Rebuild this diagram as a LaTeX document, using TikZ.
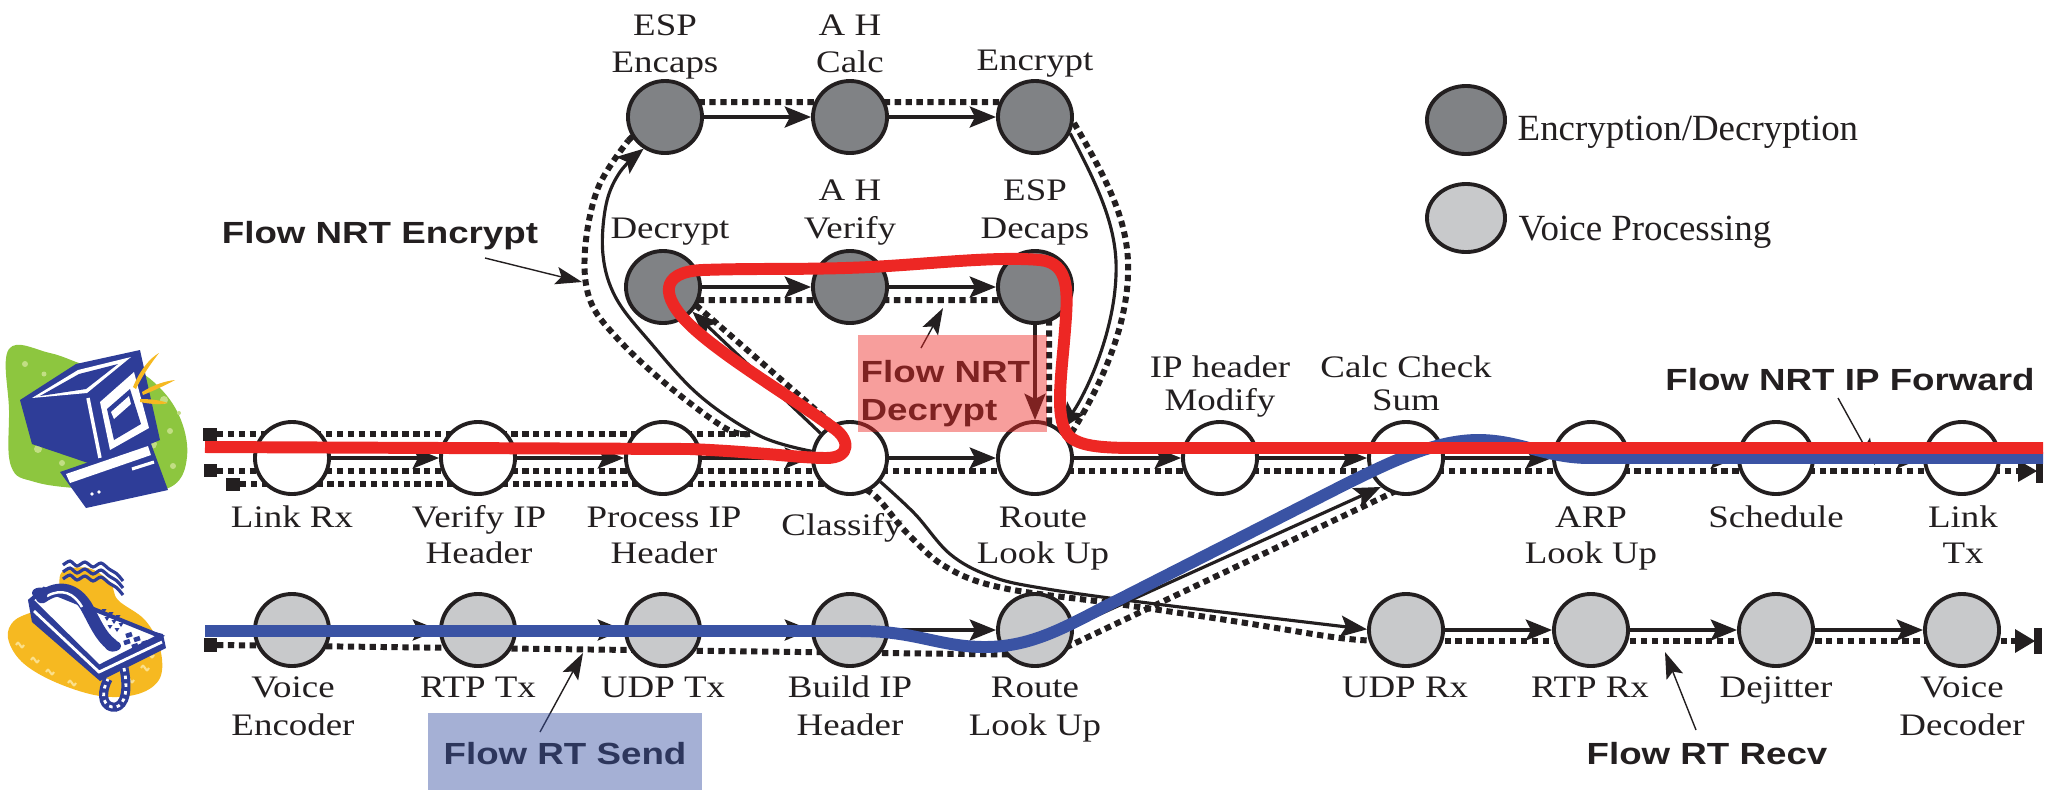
\documentclass[tikz,border=0pt]{standalone}
\usepackage{fontspec}
\usetikzlibrary{arrows.meta,shapes.geometric}
\newfontfamily\lblfont{Liberation Serif}[FakeStretch=1.18]
\newfontfamily\legfont{Liberation Serif}
\newfontfamily\flowfont{Liberation Sans}[FakeStretch=1.2]

\definecolor{ink}{HTML}{231F20}
\definecolor{encgray}{HTML}{808285}
\definecolor{voxgray}{HTML}{C8C9CB}
\definecolor{flowred}{HTML}{ED2724}
\definecolor{flowblue}{HTML}{3A53A4}
\definecolor{clipblue}{HTML}{2E3D98}
\definecolor{clipgreen}{HTML}{8DC63F}
\definecolor{clipgreenlt}{HTML}{C2DE84}
\definecolor{clipyellow}{HTML}{F6B921}
\definecolor{clipyellowlt}{HTML}{FBE08C}

\pgfdeclarelayer{back}
\pgfdeclarelayer{front}
\pgfsetlayers{back,main,front}

\tikzset{
  procnode/.style={ellipse, draw=ink, line width=1.1pt, minimum width=0.74cm,
                   minimum height=0.72cm, inner sep=0pt},
  plainnode/.style={procnode, fill=white},
  cryptnode/.style={procnode, fill=encgray},
  voicenode/.style={procnode, fill=voxgray},
  arr/.style={draw=ink, line width=0.9pt, -{Stealth[length=7.5pt,width=6pt,inset=1.5pt]}},
  dotl/.style={draw=ink, line width=1.7pt, dash pattern=on 1.8pt off 1.3pt},
  ptr/.style={draw=ink, line width=0.4pt, -{Stealth[length=7.5pt,width=5pt,inset=1.5pt]}},
  flowline/.style={line width=3.4pt, line cap=butt, line join=round},
  lab/.style={font=\lblfont\fontsize{8.9pt}{10pt}\selectfont, text=ink, inner sep=0pt, anchor=base},
  leg/.style={font=\legfont\fontsize{10.5pt}{12pt}\selectfont, text=ink, inner sep=0pt, anchor=base west},
  flowtag/.style={font=\flowfont\bfseries\fontsize{8.7pt}{10pt}\selectfont, text=ink, inner sep=0pt, anchor=base},
}

\newcommand\nodecaption[4]{\node[lab] (#1) at (#2,#3) {#4};}

\begin{document}
\begin{tikzpicture}[x=0.01cm,y=-0.01cm]
\useasboundingbox (0,0) rectangle (2054,790);

% ---------- clip-art: computer ----------
\fill[clipgreen] plot[smooth cycle, tension=0.65] coordinates
  {(9,349) (50,353) (90,366) (130,368) (160,388) (181,420) (187,457) (174,485)
   (138,492) (85,489) (35,482) (11,466) (9,410)};
\foreach \p/\r in {(25,364)/3,(44,374)/2.5,(57,394)/4,(27,404)/5,(62,421)/3,(38,449)/4,
                   (62,463)/3,(152,444)/5,(170,431)/3,(145,471)/4,(173,466)/3,(164,400)/4,(179,413)/2}
  \fill[clipgreenlt] \p circle (\r);
\fill[clipblue] (20,400) -- (76,364) -- (140,350) -- (160,440) -- (97,466) -- (32,444) -- cycle;
\fill[white] (32,398) -- (78,370) -- (131,357) -- (87,393) -- cycle;
\fill[clipblue] (40,396) -- (79,374) -- (118,364) -- (86,389) -- cycle;
\draw[white, line width=1pt] (88,398) -- (100,458);
\fill[white] (100,402) -- (134,372) -- (149,428) -- (110,450) -- cycle;
\fill[clipblue] (107,409) -- (130,389) -- (141,424) -- (114,440) -- cycle;
\fill[white] (111,412) -- (129,396) -- (131,404) -- (114,419) -- cycle;
\fill[clipblue] (60,472) -- (150,441) -- (168,490) -- (86,508) -- cycle;
\fill[white] (66,474) -- (148,446) -- (151,455) -- (70,483) -- cycle;
\draw[white, line width=0.9pt] (132,469) -- (154,462);
\fill[white] (92,494) circle (1.8) (99,492) circle (1.8);
\fill[clipyellow] (133,387) .. controls (140,370) and (150,358) .. (159,353)
  .. controls (152,362) and (142,376) .. (136,389) -- cycle;
\fill[clipyellow] (142,392) .. controls (155,384) and (166,381) .. (175,380)
  .. controls (166,385) and (155,390) .. (143,395) -- cycle;
\fill[clipyellow] (140,399) .. controls (150,399) and (160,400) .. (168,403)
  .. controls (160,405) and (150,404) .. (140,402) -- cycle;

% ---------- clip-art: telephone ----------
\fill[clipyellow] plot[smooth cycle, tension=0.6] coordinates
  {(62,572) (88,568) (110,582) (118,600) (145,620) (160,648) (160,678) (138,694)
   (100,696) (55,682) (22,662) (8,638) (15,620) (42,608) (58,596)};
\foreach \p in {(20,645),(35,660),(50,672),(72,683),(130,680),(145,668),(150,655)}
  \draw[clipyellowlt, line width=0.6pt] \p ++(-4,0) .. controls +(2,-3) and +(-2,-3) .. ++(4,0)
     .. controls +(2,3) and +(-2,3) .. ++(4,0);
\foreach \dy in {0,7,14}
  \draw[clipblue, line width=0.9pt] plot[smooth] coordinates
    {(63,565+\dy) (70,561+\dy) (77,566+\dy) (85,562+\dy) (93,567+\dy) (101,563+\dy) (109,569+\dy) (117,574+\dy) (123,581+\dy)};
\fill[clipblue] (28,600) -- (32,622) -- (100,681) -- (166,648) -- (163,634) -- cycle;
\fill[white] (31,600) -- (44,589) -- (160,636) -- (99,667) -- cycle;
\draw[clipblue, line width=1.2pt] (31,600) -- (44,589) -- (160,636) -- (99,667) -- cycle;
\draw[white, line width=0.8pt] (34,611) -- (99,672) -- (162,642);
\draw[clipblue, line width=3.6pt, line cap=round] (42,597) .. controls (60,584) and (76,590) .. (86,606)
   .. controls (95,622) and (100,636) .. (112,645);
\draw[white, line width=0.7pt] (47,596) .. controls (62,588) and (74,593) .. (82,607);
\fill[clipblue] (40,593) ellipse (8 and 5.5) (113,646) ellipse (8 and 5.5);
\foreach \p in {(104,611),(111,614),(118,617),(107,619),(114,622),(121,625),(110,627),(117,630)}
  \fill[clipblue] \p ++(-2.5,-2) -- ++(5,0) -- ++(-2.5,4) -- cycle;
\foreach \p in {(126,636),(134,640),(142,644),(124,643),(132,647)}
  \draw[clipblue, line width=1.3pt] \p -- ++(6,-2);
\draw[clipblue, line width=2.6pt] (124,668) .. controls (130,698) and (121,709) .. (112,707)
   .. controls (101,705) and (102,690) .. (108,679);
\draw[white, line width=0.8pt, dash pattern=on 1pt off 1.2pt] (124,668) .. controls (130,698) and (121,709) .. (112,707)
   .. controls (101,705) and (102,690) .. (108,679);

% ---------- process nodes ----------
\node[plainnode] (n0) at (292,458) {};
\node[plainnode] (n1) at (478,458) {};
\node[plainnode] (n2) at (663,458) {};
\node[plainnode] (n3) at (850,458) {};
\node[plainnode] (n4) at (1035,458) {};
\node[plainnode] (n5) at (1220,458) {};
\node[plainnode] (n6) at (1406,458) {};
\node[plainnode] (n7) at (1591,458) {};
\node[plainnode] (n8) at (1776,458) {};
\node[plainnode] (n9) at (1962,458) {};

\node[voicenode] (v0) at (292,630) {};
\node[voicenode] (v1) at (478,630) {};
\node[voicenode] (v2) at (663,630) {};
\node[voicenode] (v3) at (850,630) {};
\node[voicenode] (v4) at (1035,630) {};
\node[voicenode] (v6) at (1406,630) {};
\node[voicenode] (v7) at (1591,630) {};
\node[voicenode] (v8) at (1776,630) {};
\node[voicenode] (v9) at (1962,630) {};

\node[cryptnode] (e0) at (665,117) {};
\node[cryptnode] (e1) at (850,117) {};
\node[cryptnode] (e2) at (1035,117) {};
\node[cryptnode] (d0) at (663,287) {};
\node[cryptnode] (d1) at (850,287) {};
\node[cryptnode] (d2) at (1035,287) {};

% legend
\node[cryptnode, minimum width=0.78cm, minimum height=0.68cm] (key1) at (1466,120) {};
\node[voicenode, minimum width=0.78cm, minimum height=0.68cm] (key2) at (1466,218) {};
\node[leg] (key1t) at (1517,140) {Encryption/Decryption};
\node[leg] (key2t) at (1518,240) {Voice Processing};

% free ends of the flow tracks
\coordinate (endA) at (2018,471);
\coordinate (endB) at (2015,641);

% ---------- connectors (behind the nodes) ----------
\begin{pgfonlayer}{back}
  % start markers of the dotted tracks
  \fill[ink] (203,428) rectangle (217,441);
  \fill[ink] (204,464) rectangle (217,477);
  \fill[ink] (226,478) rectangle (240,491);
  \fill[ink] (204,638) rectangle (217,652);

  % dotted tracks
  \draw[dotl] (217,434) -- (750,434);
  \draw[dotl] plot[smooth, tension=0.6] coordinates
     {(750,434) (725,428) (666,384) (617,338) (590,300) (585,250) (598,188) (628,141)};
  \draw[dotl] (628,141) -- (665,102) -- (1035,102) -- (1074,123);
  \draw[dotl] (1074,123) .. controls (1110,185) and (1130,225) .. (1128,275)
                        .. controls (1126,335) and (1095,395) .. (1072,432);
  \draw[dotl] (832,424) -- (690,300) -- (1049,300) -- (1049,432);
  \draw[dotl] (217,471) -- (endA);
  \draw[dotl] (240,484) -- (845,484);
  \draw[dotl] plot[smooth, tension=0.6] coordinates
     {(845,484) (873,494) (907,533) (946,567) (1003,588) (1118,604) (1233,621) (1340,638) (1390,641)};
  \draw[dotl] (1390,641) -- (endB);
  \draw[dotl] (217,645) -- (1050,655) -- (1398,490);

  % solid flow arrows
  \draw[arr] (n0) -- (n1);
  \draw[arr] (n1) -- (n2);
  \draw[arr] (n2) -- (n3);
  \draw[arr] (n3) -- (n4);
  \draw[arr] (n4) -- (n5);
  \draw[arr] (n5) -- (n6);
  \draw[arr] (n6) -- (n7);
  \draw[arr] (n7) -- (n8);
  \draw[arr] (n8) -- (n9);
  \draw[arr] (v0) -- (v1);
  \draw[arr] (v1) -- (v2);
  \draw[arr] (v2) -- (v3);
  \draw[arr] (v3) -- (v4);
  \draw[arr] (v6) -- (v7);
  \draw[arr] (v7) -- (v8);
  \draw[arr] (v8) -- (v9);
  \draw[arr] (v4.6) -- (n6.229);
  \draw[arr] (e0) -- (e1);
  \draw[arr] (e1) -- (e2);
  \draw[arr] (d0) -- (d1);
  \draw[arr] (d1) -- (d2);
  \draw[arr] (d2) -- (n4);
  \draw[arr] (n3.140) -- (d0.-40);
  \draw[arr] plot[smooth, tension=0.6] coordinates
     {(n3.170) (760,436) (700,396) (650,342) (616,298) (603,255) (606,205) (620,172) (e0.236)};
  \draw[arr] (e2.-25) .. controls (1100,190) and (1118,230) .. (1116,275)
                      .. controls (1114,335) and (1085,395) .. (n4.48);
  \draw[arr] plot[smooth, tension=0.6] coordinates
     {(n3.-38) (915,514) (950,554) (990,576) (1041,588) (1156,604) (v6.179)};

  % end markers
  \fill[ink] (endA) ++(0,-11) -- ++(19,11) -- ++(-19,11) -- cycle;
  \fill[ink] (2036,460) rectangle (2043,483);
  \fill[ink] (endB) ++(0,-12) -- ++(20,12) -- ++(-20,12) -- cycle;
  \fill[ink] (2034,628) rectangle (2042,654);

  % pointers from the flow names
  \coordinate (pEncA) at (485,258);  \coordinate (pEncB) at (582,282);
  \coordinate (pDecA) at (921,348);  \coordinate (pDecB) at (943,308);
  \coordinate (pFwdA) at (1838,398); \coordinate (pFwdB) at (1875,465);
  \coordinate (pSndA) at (540,732);  \coordinate (pSndB) at (583,653);
  \coordinate (pRcvA) at (1696,730); \coordinate (pRcvB) at (1665,652);
  \draw[ptr] (pEncA) -- (pEncB);
  \draw[ptr] (pDecA) -- (pDecB);
  \draw[ptr] (pFwdA) -- (pFwdB);
  \draw[ptr] (pSndA) -- (pSndB);
  \draw[ptr] (pRcvA) -- (pRcvB);
\end{pgfonlayer}

% ---------- highlighted flows, captions ----------
\begin{pgfonlayer}{front}
  \draw[flowline, flowblue] (205,631) -- (860,631)
     .. controls (915,631) and (940,647) .. (985,647)
     .. controls (1035,647) and (1070,624) .. (1118,600) -- (1340,487)
     .. controls (1390,462) and (1435,440) .. (1478,440)
     .. controls (1520,440) and (1545,458) .. (1590,458) -- (2043,458);
  \draw[flowline, flowred] (205,447) -- (690,449)
     .. controls (760,452) and (800,458) .. (826,458)
     .. controls (852,458) and (850,438) .. (832,427)
     .. controls (790,396) and (722,356) .. (690,325)
     .. controls (660,296) and (660,272) .. (702,270)
     .. controls (760,268) and (810,270) .. (870,267)
     .. controls (930,264) and (995,256) .. (1040,260)
     .. controls (1070,263) and (1068,292) .. (1065,330)
     .. controls (1061,380) and (1054,422) .. (1070,437)
     .. controls (1082,447) and (1105,448) .. (1140,448) -- (2043,448);

  % node captions
  \nodecaption{cE0a}{665}{35}{ESP}
  \nodecaption{cE0b}{665}{72}{Encaps}
  \nodecaption{cE1a}{850}{35}{A H}
  \nodecaption{cE1b}{850}{72}{Calc}
  \nodecaption{cE2}{1035}{70}{Encrypt}
  \nodecaption{cD0}{670}{238}{Decrypt}
  \nodecaption{cD1a}{850}{200}{A H}
  \nodecaption{cD1b}{850}{238}{Verify}
  \nodecaption{cD2a}{1035}{200}{ESP}
  \nodecaption{cD2b}{1035}{238}{Decaps}
  \nodecaption{cN5a}{1220}{377}{IP header}
  \nodecaption{cN5b}{1220}{410}{Modify}
  \nodecaption{cN6a}{1406}{377}{Calc Check}
  \nodecaption{cN6b}{1406}{410}{Sum}
  \nodecaption{cN0}{292}{527}{Link Rx}
  \nodecaption{cN1a}{479}{527}{Verify IP}
  \nodecaption{cN1b}{479}{563}{Header}
  \nodecaption{cN2a}{664}{527}{Process IP}
  \nodecaption{cN2b}{664}{563}{Header}
  \nodecaption{cN3}{842}{535}{Classify}
  \nodecaption{cN4a}{1043}{527}{Route}
  \nodecaption{cN4b}{1043}{563}{Look Up}
  \nodecaption{cN7a}{1591}{527}{ARP}
  \nodecaption{cN7b}{1591}{563}{Look Up}
  \nodecaption{cN8}{1776}{527}{Schedule}
  \nodecaption{cN9a}{1963}{527}{Link}
  \nodecaption{cN9b}{1963}{563}{Tx}
  \nodecaption{cV0a}{293}{697}{Voice}
  \nodecaption{cV0b}{293}{735}{Encoder}
  \nodecaption{cV1}{478}{697}{RTP Tx}
  \nodecaption{cV2}{663}{697}{UDP Tx}
  \nodecaption{cV3a}{850}{697}{Build IP}
  \nodecaption{cV3b}{850}{735}{Header}
  \nodecaption{cV4a}{1035}{697}{Route}
  \nodecaption{cV4b}{1035}{735}{Look Up}
  \nodecaption{cV6}{1405}{697}{UDP Rx}
  \nodecaption{cV7}{1590}{697}{RTP Rx}
  \nodecaption{cV8}{1776}{697}{Dejitter}
  \nodecaption{cV9a}{1962}{697}{Voice}
  \nodecaption{cV9b}{1962}{735}{Decoder}

  % flow names
  \node[flowtag] (fEnc) at (380,243) {Flow NRT Encrypt};
  \node[flowtag] (fFwd) at (1850,390) {Flow NRT IP Forward};
  \node[flowtag, anchor=base west] (fDec1) at (860,382) {Flow NRT};
  \node[flowtag, anchor=base west] (fDec2) at (860,420) {Decrypt};
  \node[flowtag] (fSend) at (565,764) {Flow RT Send};
  \node[flowtag] (fRecv) at (1707,764) {Flow RT Recv};

  % tinted panels laid over their flow names
  \fill[flowred, fill opacity=0.45] (858,335) rectangle (1047,432);
  \fill[flowblue, fill opacity=0.46] (428,713) rectangle (702,790);
\end{pgfonlayer}
\end{tikzpicture}
\end{document}
